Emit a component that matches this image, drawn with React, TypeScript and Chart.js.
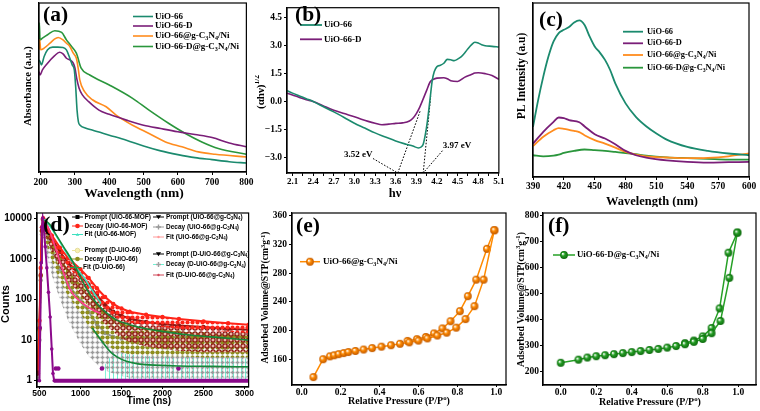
import React, { useEffect, useRef } from 'react';
import { Chart, registerables } from 'chart.js';
Chart.register(...registerables);

const SERIF = '"Liberation Serif", "Times New Roman", serif';
const SANS = '"Liberation Sans", Arial, sans-serif';

// ---------------- colours ----------------
const TEAL = '#1b8a6e';
const PURPLE = '#7a1e78';
const ORANGE = '#ff8c1e';
const GREEN = '#2a963c';

// ---------------- (a) UV-vis absorbance ----------------
const aTicksX = [200, 300, 400, 500, 600, 700, 800];
const aX_UiO66 = [195, 198, 202, 210, 220, 235, 250, 265, 275, 285, 292, 298, 302, 306, 310, 315, 330, 350, 400, 450, 500, 550, 600, 650, 700, 750, 800];
const aY_UiO66 = [66.3, 65.3, 63.4, 68.3, 72.3, 73.9, 73.9, 73.7, 72.3, 67.3, 63.4, 60.4, 50.5, 36.6, 29.7, 27.7, 26.1, 24.8, 21.8, 18.8, 15.4, 12.5, 10.3, 8.5, 7.3, 6.1, 5.3];
const aX_D = [195, 198, 205, 220, 240, 255, 265, 275, 285, 295, 300, 305, 312, 322, 340, 370, 400, 450, 500, 550, 600, 650, 700, 750, 800];
const aY_D = [59.4, 57.4, 60.4, 64.4, 68.7, 70.9, 69.9, 67.3, 66.3, 64.4, 61.4, 55.4, 49.5, 45.5, 41.6, 36.6, 34.1, 30.7, 27.7, 25.7, 23.8, 22.2, 20.4, 17.2, 14.9];
const aX_CN = [195, 197, 200, 210, 227, 240, 251, 265, 275, 285, 295, 304, 310, 314, 328, 352, 391, 420, 468, 516, 564, 612, 660, 709, 800];
const aY_CN = [72.3, 78.2, 72.3, 73.3, 76.2, 78.6, 79.6, 78.2, 76.2, 74.3, 70.3, 67.3, 60.4, 54.5, 47.5, 42.6, 38.6, 33.7, 27.7, 22.8, 17.8, 14.9, 11.9, 10.5, 8.9];
const aX_DCN = [195, 196, 198, 205, 220, 241, 261, 275, 290, 304, 318, 343, 400, 468, 516, 574, 622, 670, 718, 800];
const aY_DCN = [78.2, 88.1, 78.2, 79.2, 81.2, 83.6, 82.6, 78.2, 74.3, 70.3, 61.4, 57.4, 51.5, 43.6, 36.6, 28.7, 22.8, 17.8, 13.9, 10.5];

// ---------------- (b) Tauc plot ----------------
const bTicksX = [2.1, 2.25, 2.4, 2.55, 2.7, 2.85, 3.0, 3.15, 3.3, 3.45, 3.6, 3.75, 3.9, 4.05, 4.2, 4.35, 4.5, 4.65, 4.8, 4.95, 5.1];
const bTicksY = [-3, -1.5, 0, 1.5, 3, 4.5];
const bX_UiO66 = [2.02, 2.1, 2.2, 2.3, 2.4, 2.55, 2.7, 2.85, 3.0, 3.15, 3.3, 3.45, 3.6, 3.75, 3.85, 3.93, 3.97, 4.0, 4.03, 4.06, 4.1, 4.13, 4.16, 4.2, 4.25, 4.3, 4.35, 4.4, 4.45, 4.5, 4.55, 4.6, 4.65, 4.7, 4.75, 4.8, 4.85, 4.9, 5.0, 5.1];
const bY_UiO66 = [0.58, 0.45, 0.3, 0.15, 0.0, -0.28, -0.56, -0.86, -1.17, -1.43, -1.69, -1.91, -2.13, -2.3, -2.4, -2.5, -2.45, -2.3, -1.8, -1.1, 0.14, 1.1, 1.6, 1.88, 1.95, 2.06, 2.27, 2.25, 2.2, 2.28, 2.4, 2.6, 2.84, 3.05, 3.19, 3.15, 3.05, 3.0, 2.97, 2.93];
const bX_D = [2.02, 2.1, 2.2, 2.3, 2.4, 2.55, 2.7, 2.85, 3.0, 3.1, 3.2, 3.3, 3.4, 3.5, 3.6, 3.7, 3.8, 3.85, 3.9, 3.95, 4.0, 4.05, 4.1, 4.15, 4.2, 4.3, 4.35, 4.4, 4.5, 4.6, 4.7, 4.75, 4.8, 4.9, 5.0, 5.1];
const bY_D = [0.45, 0.35, 0.22, 0.1, 0.0, -0.24, -0.47, -0.65, -0.82, -0.95, -1.07, -1.17, -1.25, -1.22, -1.18, -1.15, -1.05, -0.9, -0.65, -0.3, 0.14, 0.6, 1.05, 1.2, 1.26, 1.28, 1.22, 1.12, 1.08, 1.3, 1.45, 1.53, 1.55, 1.5, 1.4, 1.19];
const bTangent1X = [3.63, 3.96];
const bTangent1Y = [-3.85, -0.47];
const bTangent2X = [4.0, 4.11];
const bTangent2Y = [-3.85, 0.3];
const bLeader1X = [3.27, 3.63];
const bLeader1Y = [-3.07, -3.85];
const bLeader2X = [4.28, 4.0];
const bLeader2Y = [-2.65, -3.85];
const bGapLabels = ['3.52 eV', '3.97 eV'];
const bGapLabelX = [3.055, 4.49];
const bGapLabelY = [-2.86, -2.4];

// ---------------- (c) PL spectra ----------------
const cTicksX = [390, 420, 450, 480, 510, 540, 570, 600];
const cX_UiO66 = [390, 395, 400, 405, 410, 415, 420, 425, 430, 435, 440, 445, 450, 455, 460, 465, 470, 480, 490, 500, 510, 520, 540, 560, 580, 600];
const cY_UiO66 = [28.8, 44.2, 57.7, 69.2, 77.9, 82.7, 84.6, 86.2, 88.8, 90, 87.5, 80.8, 75, 71.5, 67.3, 61.5, 53.8, 42.3, 34.6, 29.2, 25, 21.5, 17.3, 15, 13.5, 12.5];
const cX_D = [390, 400, 410, 415, 420, 425, 435, 440, 450, 460, 470, 480, 490, 500, 520, 540, 560, 580, 600];
const cY_D = [19.2, 26, 31.7, 34.2, 33.8, 32.7, 31.5, 29.2, 24.6, 22.1, 18.8, 15, 12.5, 11.2, 9.6, 8.7, 8.3, 8.5, 8.7];
const cX_CN = [390, 400, 410, 415, 420, 430, 435, 440, 450, 460, 470, 480, 490, 500, 520, 540, 560, 580, 600];
const cY_CN = [17.7, 23.1, 26.9, 28.1, 27.7, 26.5, 25.8, 24, 21.2, 19.2, 16.9, 14.4, 12.9, 11.9, 11.2, 10.8, 11, 11.9, 13.5];
const cX_DCN = [390, 400, 410, 415, 420, 430, 440, 450, 460, 470, 480, 490, 500, 520, 540, 560, 580, 600];
const cY_DCN = [12.5, 11.9, 12.3, 12.9, 13.8, 15, 15.8, 15.4, 15, 14.4, 13.8, 13.1, 12.3, 11.3, 10.8, 10.4, 10, 10];

// ---------------- (d) TRPL decay ----------------
const dTicksX = [500, 1000, 1500, 2000, 2500, 3000];
const dTicksY = [1, 10, 100, 1000, 10000];
const dT = [480, 500, 515, 530, 545, 580, 650, 750, 850, 1000, 1100, 1200, 1300, 1400, 1500, 1600, 1800, 2000, 2200, 2500, 2800, 3050];
const dRedUp = [2, 30, 600, 6000, 10000, 7500, 3800, 1900, 1050, 560, 340, 190, 115, 78, 60, 50, 42, 37, 33, 29, 26, 24];
const dRedLo = [1, 6, 120, 2200, 8000, 5200, 2500, 1200, 620, 300, 170, 95, 58, 40, 31, 27, 23, 21, 19, 17, 16, 15];
const dDarkUp = [1.5, 20, 400, 5000, 9500, 6500, 3200, 1500, 800, 400, 230, 130, 75, 50, 40, 34, 28, 25, 23, 21, 19, 18];
const dDarkLo = [1, 2, 50, 1500, 6000, 3500, 1500, 600, 300, 130, 70, 40, 25, 16, 11, 9, 7, 6, 5.5, 5, 5, 5];
const dOliveUp = [1.5, 18, 380, 4800, 9500, 6000, 2600, 1000, 480, 220, 130, 75, 45, 32, 25, 21, 19, 17, 15.5, 14, 13, 12];
const dOliveLo = [1, 2, 40, 1000, 5000, 2500, 900, 300, 120, 45, 22, 12, 8, 6, 5, 4.5, 4.2, 4, 4, 3.8, 3.8, 3.8];
const dGreyUp = [1.2, 10, 300, 4000, 9000, 5000, 1800, 550, 230, 95, 50, 25, 15, 12, 11, 11, 11.5, 12, 12, 12, 12, 12];
const dGreyLo = [1, 1.5, 20, 500, 3000, 1500, 400, 100, 30, 8, 4, 2.5, 1.8, 1.5, 1.3, 1.2, 1.2, 1.2, 1.2, 1.2, 1.2, 1.2];
const dCyanT = [1300, 1400, 1600, 1800, 2000, 2200, 2500, 2800, 3050];
const dCyanUp = [2.5, 5, 4.5, 4, 4, 3.8, 3.8, 3.6, 3.5];
const dCyanLo = [1, 1, 1, 1, 1, 1, 1, 1, 1];
const dPromptT = [470, 500, 510, 520, 530, 540, 555, 570, 590, 610, 630, 650, 665, 680];
const dPromptY = [1, 1, 20, 800, 6000, 10000, 6000, 2000, 600, 150, 37, 6, 1.5, 1];
const dBaseT = [680, 3050];
const dBaseY = [1, 1];
const dPromptExtraT = [700, 730, 1262, 2195];
const dPromptExtraY = [2, 2, 2, 2];
const dFitMofT = [560, 650, 750, 850, 950, 1050, 1150, 1250];
const dFitMofY = [9500, 5500, 2600, 1200, 600, 330, 160, 80];
const dFitDT = [560, 630, 700, 800, 900, 1000, 1100, 1200, 1300, 1440, 1600, 1800, 2036, 2300, 2600, 3050];
const dFitDY = [9000, 6900, 4000, 1900, 900, 350, 150, 80, 50, 31, 24, 19, 16, 13.5, 12, 10];
const dFitGT = [560, 640, 720, 800, 870, 950, 1050, 1150, 1250];
const dFitGY = [9000, 4000, 1300, 420, 180, 110, 75, 55, 45];
const dFitDGT = [1143, 1250, 1362, 1450, 1560, 1700, 1838, 2200, 2600, 3050];
const dFitDGY = [20, 10, 5.2, 3.8, 3.0, 2.6, 2.45, 2.3, 2.25, 2.2];

// ---------------- (e) N2 isotherm UiO-66@g-C3N4/Ni ----------------
const eTicksX = [0, 0.2, 0.4, 0.6, 0.8, 1.0];
const eTicksY = [160, 200, 240, 280, 320, 360];
const eAdsX = [0.06, 0.11, 0.145, 0.167, 0.19, 0.216, 0.24, 0.276, 0.318, 0.362, 0.41, 0.459, 0.505, 0.553, 0.6, 0.646, 0.697, 0.745, 0.794, 0.842, 0.888, 0.935, 0.99];
const eAdsY = [135, 160, 164, 165.5, 167, 168.5, 170, 171.5, 173.5, 175.5, 177.5, 179.5, 181.5, 183.5, 186, 189, 193, 197, 204, 216, 234, 271, 340];
const eDesX = [0.99, 0.952, 0.897, 0.854, 0.813, 0.765, 0.723, 0.68, 0.638, 0.592, 0.544];
const eDesY = [340, 314, 271, 248, 227, 213, 203, 196, 191, 188, 185.5];

// ---------------- (f) N2 isotherm UiO-66-D@g-C3N4/Ni ----------------
const fTicksX = [0, 0.2, 0.4, 0.6, 0.8, 1.0];
const fTicksY = [200, 300, 400, 500, 600, 700, 800];
const fAdsX = [0.0, 0.1, 0.15, 0.2, 0.25, 0.3, 0.35, 0.4, 0.45, 0.5, 0.55, 0.6, 0.65, 0.7, 0.75, 0.8, 0.85, 0.9, 0.95, 0.995];
const fAdsY = [235, 247, 255, 260, 264, 268, 272, 276, 280, 284, 288, 293, 299, 306, 315, 326, 348, 395, 560, 733];
const fDesX = [0.995, 0.945, 0.895, 0.85, 0.8, 0.75, 0.7];
const fDesY = [733, 656, 443, 368, 336, 320, 310];

// ---------------- helpers ----------------
const zip = (xs: number[], ys: number[]) => xs.map((x, i) => ({ x, y: ys[i] }));

type Seg = { t: string; s?: 'sub' | 'sup' };
const T = (t: string): Seg[] => [{ t }];
const CN = (pre: string, post: string): Seg[] => [{ t: pre + 'g-C' }, { t: '3', s: 'sub' }, { t: 'N' }, { t: '4', s: 'sub' }, { t: post }];

function segFont(size: number, family: string, s?: string) {
  return `bold ${s ? size * 0.68 : size}px ${family}`;
}
function richWidth(ctx: CanvasRenderingContext2D, segs: Seg[], size: number, family: string) {
  let w = 0;
  for (const g of segs) {
    ctx.font = segFont(size, family, g.s);
    w += ctx.measureText(g.t).width;
  }
  return w;
}
function drawRich(ctx: CanvasRenderingContext2D, segs: Seg[], x: number, y: number, size: number, family: string, align = 'left', rotate = false) {
  ctx.save();
  ctx.translate(x, y);
  if (rotate) ctx.rotate(-Math.PI / 2);
  ctx.textBaseline = 'middle';
  ctx.textAlign = 'left';
  ctx.fillStyle = '#000';
  const w = richWidth(ctx, segs, size, family);
  let cx = align === 'center' ? -w / 2 : align === 'right' ? -w : 0;
  for (const g of segs) {
    ctx.font = segFont(size, family, g.s);
    const dy = g.s === 'sub' ? size * 0.28 : g.s === 'sup' ? -size * 0.32 : 0;
    ctx.fillText(g.t, cx, dy);
    cx += ctx.measureText(g.t).width;
  }
  ctx.restore();
}

type Marker = (ctx: CanvasRenderingContext2D, x: number, y: number) => void;
const mCircle = (fill: string, stroke?: string, r = 2.3): Marker => (ctx, x, y) => {
  ctx.beginPath(); ctx.arc(x, y, r, 0, Math.PI * 2); ctx.fillStyle = fill; ctx.fill();
  if (stroke) { ctx.strokeStyle = stroke; ctx.lineWidth = 0.8; ctx.stroke(); }
};
const mSquare = (fill: string): Marker => (ctx, x, y) => { ctx.fillStyle = fill; ctx.fillRect(x - 2, y - 2, 4, 4); };
const mTriDown = (fill: string, r = 2.6): Marker => (ctx, x, y) => {
  ctx.beginPath(); ctx.moveTo(x - r, y - r * 0.7); ctx.lineTo(x + r, y - r * 0.7); ctx.lineTo(x, y + r * 0.9); ctx.closePath(); ctx.fillStyle = fill; ctx.fill();
};
const mTriUp = (fill: string, r = 1.8): Marker => (ctx, x, y) => {
  ctx.beginPath(); ctx.moveTo(x - r, y + r * 0.7); ctx.lineTo(x + r, y + r * 0.7); ctx.lineTo(x, y - r * 0.9); ctx.closePath(); ctx.fillStyle = fill; ctx.fill();
};
const mPlus = (stroke: string): Marker => (ctx, x, y) => {
  ctx.strokeStyle = stroke; ctx.lineWidth = 1.4;
  ctx.beginPath(); ctx.moveTo(x - 2.4, y); ctx.lineTo(x + 2.4, y); ctx.moveTo(x, y - 2.4); ctx.lineTo(x, y + 2.4); ctx.stroke();
};
const mImage = (img: HTMLCanvasElement): Marker => (ctx, x, y) => { ctx.drawImage(img, x - img.width / 2, y - img.height / 2); };

function makeBall(color: string, dark: string, r: number) {
  const s = Math.ceil(r * 2 + 2);
  const c = document.createElement('canvas');
  c.width = s; c.height = s;
  const g = c.getContext('2d')!;
  const cx = s / 2, cy = s / 2;
  const grad = g.createRadialGradient(cx - r * 0.35, cy - r * 0.35, r * 0.1, cx, cy, r);
  grad.addColorStop(0, '#ffffff');
  grad.addColorStop(0.4, color);
  grad.addColorStop(1, dark);
  g.fillStyle = grad;
  g.beginPath(); g.arc(cx, cy, r, 0, Math.PI * 2); g.fill();
  return c;
}

function makePattern(ctx: CanvasRenderingContext2D, size: number, draw: (g: CanvasRenderingContext2D) => void) {
  const c = document.createElement('canvas');
  c.width = size; c.height = size;
  const g = c.getContext('2d')!;
  draw(g);
  return ctx.createPattern(c, 'repeat')!;
}

type TextItem = { segs: Seg[]; x: number; y: number; size: number; family: string; align?: string; rotate?: boolean };
type LegendItem = { segs: Seg[]; x1: number; x2: number; tx: number; y: number; color: string; lw: number; size: number; family: string; marker?: Marker };
type DataText = { segs: Seg[]; vx: number; vy: number; size: number; family: string };
type Deco = { ox: number; oy: number; texts: TextItem[]; legend: LegendItem[]; dataTexts?: DataText[] };

const decor = (d: Deco) => ({
  id: 'decor',
  afterDraw(chart: any) {
    const ctx: CanvasRenderingContext2D = chart.ctx;
    const a = chart.chartArea;
    ctx.save();
    ctx.strokeStyle = '#000';
    ctx.lineWidth = 1.2;
    ctx.setLineDash([]);
    ctx.strokeRect(a.left, a.top, a.right - a.left, a.bottom - a.top);
    for (const it of d.legend) {
      const y = it.y - d.oy;
      ctx.strokeStyle = it.color;
      ctx.lineWidth = it.lw;
      ctx.beginPath();
      ctx.moveTo(it.x1 - d.ox, y);
      ctx.lineTo(it.x2 - d.ox, y);
      ctx.stroke();
      if (it.marker) it.marker(ctx, (it.x1 + it.x2) / 2 - d.ox, y);
      drawRich(ctx, it.segs, it.tx - d.ox, y, it.size, it.family);
    }
    for (const t of d.texts) drawRich(ctx, t.segs, t.x - d.ox, t.y - d.oy, t.size, t.family, t.align ?? 'left', t.rotate);
    if (d.dataTexts) {
      for (const t of d.dataTexts) {
        drawRich(ctx, t.segs, chart.scales.x.getPixelForValue(t.vx), chart.scales.y.getPixelForValue(t.vy), t.size, t.family, 'center');
      }
    }
    ctx.restore();
  },
});

type AxisSpec = {
  type?: string; min: number; max: number; ticks: number[]; size: number; family: string;
  pad: number; tickLen: number; fit: number; show?: boolean; fmt?: (v: number) => string;
};
function axis(sp: AxisSpec, horizontal: boolean) {
  return {
    type: sp.type ?? 'linear',
    min: sp.min,
    max: sp.max,
    afterFit: (s: any) => { if (horizontal) s.height = sp.fit; else s.width = sp.fit; },
    afterBuildTicks: (s: any) => { s.ticks = sp.ticks.map((v) => ({ value: v })); },
    ticks: {
      display: sp.show !== false,
      autoSkip: false,
      maxRotation: 0,
      minRotation: 0,
      padding: sp.pad,
      color: '#000',
      font: { family: sp.family, size: sp.size, weight: 'bold' },
      callback: (v: any) => (sp.fmt ? sp.fmt(Number(v)) : String(v)),
    },
    grid: { display: true, drawOnChartArea: false, drawTicks: sp.tickLen > 0, tickLength: sp.tickLen, color: '#000', lineWidth: 1 },
    border: { display: true, color: '#000', width: 1.2 },
  };
}

function options(ax: AxisSpec, ay: AxisSpec, top: number, right: number) {
  return {
    responsive: false,
    maintainAspectRatio: false,
    animation: false,
    devicePixelRatio: 1,
    events: [],
    layout: { autoPadding: false, padding: { left: 0, top, right, bottom: 0 } },
    plugins: { legend: { display: false }, tooltip: { enabled: false } },
    scales: { x: axis(ax, true), y: axis(ay, false) },
  };
}

const curve = (xs: number[], ys: number[], color: string, width = 1.6, extra: any = {}) => ({
  type: 'line',
  data: zip(xs, ys),
  borderColor: color,
  backgroundColor: color,
  borderWidth: width,
  pointRadius: 0,
  cubicInterpolationMode: 'monotone',
  fill: false,
  ...extra,
});

// ---------------- panel configs ----------------
function makeA() {
  const d: Deco = {
    ox: 0, oy: 0,
    texts: [
      { segs: T('(a)'), x: 43, y: 15, size: 21.5, family: SERIF },
      { segs: T('Wavelength (nm)'), x: 134, y: 194, size: 13.5, family: SERIF, align: 'center' },
      { segs: T('Absorbance (a.u.)'), x: 28, y: 86, size: 10.5, family: SERIF, align: 'center', rotate: true },
    ],
    legend: [
      { segs: T('UiO-66'), x1: 133, x2: 153, tx: 155, y: 16.5, color: TEAL, lw: 1.6, size: 9, family: SERIF },
      { segs: T('UiO-66-D'), x1: 133, x2: 153, tx: 155, y: 26, color: PURPLE, lw: 1.6, size: 9, family: SERIF },
      { segs: CN('UiO-66@', '/Ni'), x1: 133, x2: 153, tx: 155, y: 36, color: ORANGE, lw: 1.6, size: 9, family: SERIF },
      { segs: CN('UiO-66-D@', '/Ni'), x1: 133, x2: 153, tx: 155, y: 46.5, color: GREEN, lw: 1.6, size: 9, family: SERIF },
    ],
  };
  return {
    type: 'line',
    data: {
      datasets: [
        curve(aX_UiO66, aY_UiO66, TEAL),
        curve(aX_D, aY_D, PURPLE),
        curve(aX_CN, aY_CN, ORANGE),
        curve(aX_DCN, aY_DCN, GREEN),
      ],
    },
    options: options(
      { min: 195, max: 800, ticks: aTicksX, size: 9.5, family: SERIF, pad: 1.5, tickLen: 3, fit: 205 - 172 },
      { min: 0, max: 100, ticks: [0, 50, 100], size: 9, family: SERIF, pad: 0, tickLen: 0, fit: 39, show: false },
      3, 255 - 248,
    ),
    plugins: [decor(d)],
  };
}

function makeB() {
  const fmtX = (v: number) => (Math.abs((v * 10) / 3 - Math.round((v * 10) / 3)) < 1e-6 ? v.toFixed(1) : '');
  const fmtY = (v: number) => (v < 0 ? '\u2212' + Math.abs(v).toFixed(1) : v.toFixed(1));
  const dotted = (xs: number[], ys: number[]) => curve(xs, ys, '#000', 1, { borderDash: [1.6, 1.6], cubicInterpolationMode: 'default', tension: 0 });
  const d: Deco = {
    ox: 255, oy: 0,
    texts: [
      { segs: T('(b)'), x: 295, y: 15, size: 21.5, family: SERIF },
      { segs: T('h\u03bd'), x: 395, y: 193.5, size: 12.5, family: SERIF, align: 'center' },
      { segs: [{ t: '(\u03b1h\u03bd)' }, { t: '1/2', s: 'sup' }], x: 261, y: 92, size: 11, family: SERIF, align: 'center', rotate: true },
    ],
    legend: [
      { segs: T('UiO-66'), x1: 300, x2: 322, tx: 324, y: 25, color: TEAL, lw: 1.8, size: 9, family: SERIF },
      { segs: T('UiO-66-D'), x1: 300, x2: 322, tx: 324, y: 39.3, color: PURPLE, lw: 1.8, size: 9, family: SERIF },
    ],
    dataTexts: bGapLabels.map((s, i) => ({ segs: T(s), vx: bGapLabelX[i], vy: bGapLabelY[i], size: 9, family: SERIF })),
  };
  return {
    type: 'line',
    data: {
      datasets: [
        curve(bX_UiO66, bY_UiO66, TEAL),
        curve(bX_D, bY_D, PURPLE),
        dotted(bTangent1X, bTangent1Y),
        dotted(bTangent2X, bTangent2Y),
        dotted(bLeader1X, bLeader1Y),
        dotted(bLeader2X, bLeader2Y),
      ],
    },
    options: options(
      { min: 2.02, max: 5.1, ticks: bTicksX, size: 9, family: SERIF, pad: 0.5, tickLen: 3, fit: 205 - 173, fmt: fmtX },
      { min: -3.85, max: 5.05, ticks: bTicksY, size: 9.5, family: SERIF, pad: 2, tickLen: 3, fit: 32, fmt: fmtY },
      3, 250 - 245,
    ),
    plugins: [decor(d)],
  };
}

function makeC() {
  const d: Deco = {
    ox: 505, oy: 0,
    texts: [
      { segs: T('(c)'), x: 539, y: 20, size: 21.5, family: SERIF },
      { segs: T('Wavelength (nm)'), x: 652, y: 201.5, size: 12.5, family: SERIF, align: 'center' },
      { segs: T('PL Intensity (a.u)'), x: 522.5, y: 76, size: 11.5, family: SERIF, align: 'center', rotate: true },
    ],
    legend: [
      { segs: T('UiO-66'), x1: 623, x2: 643, tx: 647, y: 31.7, color: TEAL, lw: 1.8, size: 8.4, family: SERIF },
      { segs: T('UiO-66-D'), x1: 623, x2: 643, tx: 647, y: 43.3, color: PURPLE, lw: 1.8, size: 8.4, family: SERIF },
      { segs: CN('UiO-66@', '/Ni'), x1: 623, x2: 643, tx: 647, y: 55, color: ORANGE, lw: 1.8, size: 8.4, family: SERIF },
      { segs: CN('UiO-66-D@', '/Ni'), x1: 623, x2: 643, tx: 647, y: 67.7, color: GREEN, lw: 1.8, size: 8.4, family: SERIF },
    ],
  };
  return {
    type: 'line',
    data: {
      datasets: [
        curve(cX_UiO66, cY_UiO66, TEAL, 1.8),
        curve(cX_D, cY_D, PURPLE, 1.8),
        curve(cX_CN, cY_CN, ORANGE, 1.8),
        curve(cX_DCN, cY_DCN, GREEN, 1.8),
      ],
    },
    options: options(
      { min: 390, max: 600, ticks: cTicksX, size: 9.5, family: SERIF, pad: 0.5, tickLen: 3, fit: 207 - 177 },
      { min: 0, max: 100, ticks: [0, 50, 100], size: 9, family: SERIF, pad: 0, tickLen: 0, fit: 28, show: false },
      3, 255 - 244,
    ),
    plugins: [decor(d)],
  };
}

function makeD(canvas: HTMLCanvasElement) {
  const ctx = canvas.getContext('2d')!;
  const pRed = makePattern(ctx, 5, (g) => { g.fillStyle = '#ff2418'; g.beginPath(); g.arc(2.5, 2.5, 2.1, 0, Math.PI * 2); g.fill(); });
  const pDark = makePattern(ctx, 6, (g) => {
    g.fillStyle = '#e9b6a8'; g.strokeStyle = '#8e1612'; g.lineWidth = 1.3;
    g.beginPath(); g.arc(3, 3, 2.1, 0, Math.PI * 2); g.fill(); g.stroke();
  });
  const pOlive = makePattern(ctx, 5, (g) => { g.fillStyle = '#8e8e1c'; g.beginPath(); g.arc(2.5, 2.5, 2.1, 0, Math.PI * 2); g.fill(); });
  const pGrey = makePattern(ctx, 5, (g) => {
    g.strokeStyle = '#9a9a9a'; g.lineWidth = 1.5;
    g.beginPath(); g.moveTo(0.5, 2.5); g.lineTo(4.5, 2.5); g.moveTo(2.5, 0.5); g.lineTo(2.5, 4.5); g.stroke();
  });
  const pCyan = makePattern(ctx, 4, (g) => { g.fillStyle = '#6ff2d4'; g.fillRect(1, 0, 1, 4); });

  const band = (xs: number[], lo: number[], up: number[], pat: any, line: string, ord: number, ptColor: string) => [
    { type: 'line', data: zip(xs, lo), borderWidth: 0, pointRadius: 0, borderColor: 'rgba(0,0,0,0)', fill: false, order: ord, tension: 0 },
    { type: 'line', data: zip(xs, up), borderWidth: 2, borderColor: line, pointRadius: ptColor ? 2.2 : 0, pointBackgroundColor: ptColor, pointBorderWidth: 0, backgroundColor: pat, fill: '-1', order: ord, tension: 0 },
  ];

  const datasets: any[] = [
    ...band(dCyanT, dCyanLo, dCyanUp, pCyan, 'rgba(0,0,0,0)', 20, ''),
    ...band(dT, dGreyLo, dGreyUp, pGrey, '#9a9a9a', 19, '#9a9a9a'),
    ...band(dT, dOliveLo, dOliveUp, pOlive, '#8e8e1c', 18, '#8e8e1c'),
    ...band(dT, dDarkLo, dDarkUp, pDark, '#8e1612', 17, '#8e1612'),
    ...band(dT, dRedLo, dRedUp, pRed, '#ff2418', 16, '#ff2418'),
    curve(dPromptT, dPromptY, '#8b0a8b', 2, { order: 10, tension: 0, cubicInterpolationMode: 'default', pointRadius: 1.8, pointBackgroundColor: '#8b0a8b', pointBorderWidth: 0 }),
    curve(dBaseT, dBaseY, '#8b0a8b', 4, { order: 10, tension: 0, cubicInterpolationMode: 'default' }),
    curve(dPromptExtraT, dPromptExtraY, '#8b0a8b', 0, { order: 10, showLine: false, pointRadius: 2.3, pointBackgroundColor: '#8b0a8b', pointBorderWidth: 0 }),
    curve(dFitGT, dFitGY, '#ff3d8b', 1.6, { order: 4 }),
    curve(dFitMofT, dFitMofY, '#3de0c0', 1.6, { order: 3 }),
    curve(dFitDT, dFitDY, '#17873a', 1.6, { order: 2 }),
    curve(dFitDGT, dFitDGY, '#17873a', 1.6, { order: 1 }),
  ];

  const L = 6.5;
  const d: Deco = {
    ox: 0, oy: 205,
    texts: [
      { segs: T('(d)'), x: 43, y: 225, size: 22, family: SERIF },
      { segs: T('Time (ns)'), x: 149, y: 401.5, size: 10, family: SANS, align: 'center' },
      { segs: T('Counts'), x: 6.3, y: 304, size: 11, family: SANS, align: 'center', rotate: true },
    ],
    legend: [
      { segs: T('Prompt (UiO-66-MOF)'), x1: 72, x2: 83, tx: 84.5, y: 217, color: '#000', lw: 1, size: L, family: SANS, marker: mSquare('#000') },
      { segs: T('Decay (UiO-66-MOF)'), x1: 72, x2: 83, tx: 84.5, y: 226, color: '#ff2418', lw: 1, size: L, family: SANS, marker: mCircle('#ff2418') },
      { segs: T('Fit (UiO-66-MOF)'), x1: 72, x2: 83, tx: 84.5, y: 234.5, color: '#3de0c0', lw: 1, size: L, family: SANS, marker: mTriUp('#3de0c0') },
      { segs: T('Prompt (D-UiO-66)'), x1: 72, x2: 83, tx: 84.5, y: 250.5, color: '#ece59a', lw: 1, size: L, family: SANS, marker: mCircle('#f6f0b0', '#e0d690') },
      { segs: T('Decay (D-UiO-66)'), x1: 72, x2: 83, tx: 84.5, y: 259, color: '#8e8e1c', lw: 1, size: L, family: SANS, marker: mCircle('#8e8e1c') },
      { segs: T('Fit (D-UiO-66)'), x1: 70, x2: 81, tx: 83, y: 267.5, color: '#2aa050', lw: 1, size: L, family: SANS, marker: mCircle('#2aa050', undefined, 1.3) },
      { segs: CN('Prompt (UiO-66@', ')'), x1: 153, x2: 164, tx: 166, y: 217, color: '#000', lw: 1, size: L, family: SANS, marker: mTriDown('#000') },
      { segs: CN('Decay (UiO-66@', ')'), x1: 153, x2: 164, tx: 166, y: 227, color: '#9a9a9a', lw: 1, size: L, family: SANS, marker: mPlus('#9a9a9a') },
      { segs: CN('Fit (UiO-66@', ')'), x1: 153, x2: 164, tx: 166, y: 237, color: '#ff9a9a', lw: 1, size: L, family: SANS, marker: mCircle('#ff9a9a', undefined, 1.2) },
      { segs: CN('Prompt (D-UiO-66@', ')'), x1: 153, x2: 164, tx: 166, y: 254, color: '#000', lw: 1, size: L, family: SANS, marker: mTriDown('#000') },
      { segs: CN('Decay (D-UiO-66@', ')'), x1: 153, x2: 164, tx: 166, y: 264.5, color: '#6ff2d4', lw: 1, size: L, family: SANS, marker: mPlus('#a0a0a0') },
      { segs: CN('Fit (D-UiO-66@', ')'), x1: 153, x2: 164, tx: 166, y: 275, color: '#d04858', lw: 1, size: L, family: SANS, marker: mCircle('#d04858', undefined, 1.2) },
    ],
  };
  return {
    type: 'line',
    data: { datasets },
    options: options(
      { min: 470, max: 3050, ticks: dTicksX, size: 8.5, family: SANS, pad: 0, tickLen: 2, fit: 206 - 182 },
      { type: 'logarithmic', min: 0.73, max: 13500, ticks: dTicksY, size: 10, family: SANS, pad: 2, tickLen: 3, fit: 37, fmt: (v) => String(v) },
      7, 254 - 253,
    ),
    plugins: [decor(d)],
  };
}

function makeIso(which: 'e' | 'f') {
  const isE = which === 'e';
  const col = isE ? '#ff8a00' : '#26a026';
  const dark = isE ? '#c25a00' : '#0d6a0d';
  const ball = makeBall(col, dark, 3.9);
  const ox = isE ? 258 : 508;
  const iso = (xs: number[], ys: number[]) => curve(xs, ys, col, 1.5, { cubicInterpolationMode: 'default', tension: 0, pointRadius: 4, pointStyle: ball });
  const d: Deco = {
    ox, oy: 205,
    texts: isE
      ? [
          { segs: T('(e)'), x: 296, y: 226.7, size: 21.5, family: SERIF },
          { segs: [{ t: 'Relative Pressure (P/P' }, { t: 'o', s: 'sup' }, { t: ')' }], x: 399, y: 401.7, size: 10, family: SERIF, align: 'center' },
          { segs: [{ t: 'Adsorbed Volume@STP(cm' }, { t: '3', s: 'sup' }, { t: 'g' }, { t: '-1', s: 'sup' }, { t: ')' }], x: 266, y: 297.5, size: 9.6, family: SERIF, align: 'center', rotate: true },
        ]
      : [
          { segs: T('(f)'), x: 548, y: 226.7, size: 21.5, family: SERIF },
          { segs: [{ t: 'Relative Pressure (P/P' }, { t: 'o', s: 'sup' }, { t: ')' }], x: 650, y: 402.5, size: 10, family: SERIF, align: 'center' },
          { segs: [{ t: 'Adsorbed Volume@STP(cm' }, { t: '3', s: 'sup' }, { t: 'g' }, { t: '-1', s: 'sup' }, { t: ')' }], x: 521, y: 299.5, size: 9.8, family: SERIF, align: 'center', rotate: true },
        ],
    legend: isE
      ? [{ segs: CN('UiO-66@', '/Ni'), x1: 300, x2: 320, tx: 323, y: 261.7, color: col, lw: 1.5, size: 9, family: SERIF, marker: mImage(ball) }]
      : [{ segs: CN('UiO-66-D@', '/Ni'), x1: 553, x2: 575, tx: 577, y: 255, color: col, lw: 1.5, size: 8.8, family: SERIF, marker: mImage(ball) }],
  };
  const ax: AxisSpec = isE
    ? { min: -0.05, max: 1.05, ticks: eTicksX, size: 9.5, family: SERIF, pad: 0, tickLen: 2, fit: 206 - 180, fmt: (v) => v.toFixed(1) }
    : { min: -0.1, max: 1.1, ticks: fTicksX, size: 9.5, family: SERIF, pad: 0, tickLen: 2, fit: 206 - 180, fmt: (v) => v.toFixed(1) };
  const ay: AxisSpec = isE
    ? { min: 124, max: 364, ticks: eTicksY, size: 9.5, family: SERIF, pad: 2, tickLen: 3, fit: 34 }
    : { min: 150, max: 808, ticks: fTicksY, size: 9.5, family: SERIF, pad: 1, tickLen: 3, fit: 35 };
  return {
    type: 'line',
    data: {
      datasets: isE ? [iso(eAdsX, eAdsY), iso(eDesX, eDesY)] : [iso(fAdsX, fAdsY), iso(fDesX, fDesY)],
    },
    options: options(ax, ay, 8, isE ? 250 - 248 : 252 - 248),
    plugins: [decor(d)],
  };
}

function Panel({ left, top, w, h, make }: { left: number; top: number; w: number; h: number; make: (c: HTMLCanvasElement) => any }) {
  const ref = useRef<HTMLCanvasElement>(null);
  useEffect(() => {
    const c = ref.current!;
    const chart = new Chart(c, make(c));
    return () => chart.destroy();
  }, []);
  return <canvas ref={ref} width={w} height={h} style={{ position: 'absolute', left, top, width: w, height: h }} />;
}

export default function App() {
  return (
    <div style={{ position: 'fixed', left: 0, top: 0, width: 760, height: 411, background: '#fff', overflow: 'hidden' }}>
      <Panel left={0} top={0} w={255} h={205} make={() => makeA()} />
      <Panel left={255} top={0} w={250} h={205} make={() => makeB()} />
      <Panel left={505} top={0} w={255} h={207} make={() => makeC()} />
      <Panel left={0} top={205} w={254} h={206} make={(c) => makeD(c)} />
      <Panel left={258} top={205} w={250} h={206} make={() => makeIso('e')} />
      <Panel left={508} top={205} w={252} h={206} make={() => makeIso('f')} />
    </div>
  );
}
